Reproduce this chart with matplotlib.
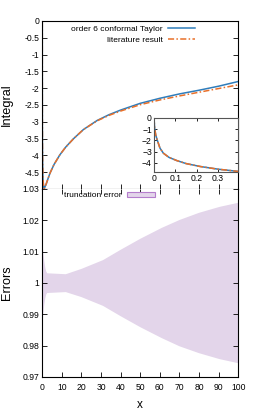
import numpy as np
import matplotlib
matplotlib.use('Agg')
import matplotlib.pyplot as plt
from matplotlib.patches import Patch

plt.rcParams['font.family'] = ['Liberation Sans', 'DejaVu Sans']

# integral curves
x_int = [0, 0.003, 0.008, 0.015, 0.028, 0.044, 0.07, 0.106, 0.15, 0.216, 0.3, 0.395,
         0.7, 1.0, 2, 3, 4, 6, 9, 12, 16, 21, 28, 34, 40, 50, 60, 70, 80, 90, 100]
taylor = [0, -0.9, -1.5, -1.95, -2.68, -3.13, -3.5, -3.78, -4.05, -4.31, -4.55, -4.75,
          -4.93, -4.99, -4.85, -4.68, -4.52, -4.27, -3.98, -3.75, -3.5, -3.23, -2.96,
          -2.79, -2.65, -2.45, -2.3, -2.17, -2.06, -1.94, -1.8]
literature = [0, -0.9, -1.5, -1.95, -2.68, -3.13, -3.5, -3.78, -4.05, -4.31, -4.55, -4.75,
              -4.93, -4.99, -4.85, -4.68, -4.52, -4.27, -3.98, -3.75, -3.5, -3.23, -2.97,
              -2.81, -2.68, -2.49, -2.35, -2.23, -2.12, -2.01, -1.9]

# truncation error band
x_err = [0, 0.5, 1, 1.5, 2, 2.5, 12, 20, 31, 40, 50, 61, 70, 80, 90.5, 100]
err_hi = [1.0135, 1.010, 1.007, 1.005, 1.0037, 1.0031, 1.0028, 1.0045, 1.0073, 1.0106,
          1.0141, 1.0176, 1.0201, 1.0224, 1.0243, 1.0256]
err_lo = [0.9863, 0.990, 0.993, 0.995, 0.9963, 0.9968, 0.9971, 0.9955, 0.9927, 0.9894,
          0.9859, 0.9824, 0.9798, 0.9776, 0.9757, 0.9744]

blue = '#2f7dbb'
orange = '#e8702a'
fill_c = '#e3d5ea'
edge_c = '#b47dcc'
fs = 6.2

fig = plt.figure(figsize=(2.8, 4.2), dpi=100)
ax1 = fig.add_axes([0.151, 0.55, 0.70, 0.40])
ax2 = fig.add_axes([0.151, 0.1024, 0.70, 0.4476])

# top panel
ax1.plot(x_int, taylor, color=blue, lw=1.1, label='order 6 conformal Taylor')
ax1.plot(x_int, literature, color=orange, lw=1.1, dashes=[4, 1.5, 1, 1.5], label='literature result')
ax1.set_xlim(0, 100)
ax1.set_ylim(-5, 0)
ax1.set_yticks(np.arange(-4.5, 0.01, 0.5))
ax1.set_yticklabels(['-4.5', '-4', '-3.5', '-3', '-2.5', '-2', '-1.5', '-1', '-0.5', '0'])
ax1.set_xticks(np.arange(0, 101, 10))
ax1.tick_params(axis='x', labelbottom=False, direction='in', length=3.5, width=0.6)
ax1.tick_params(axis='y', direction='in', right=True, length=3.5, width=0.6, labelsize=fs, pad=2)
ax1.set_ylabel('Integral', fontsize=9.2)
ax1.yaxis.set_label_coords(-0.15, 0.5)
leg1 = ax1.legend(loc='upper right', bbox_to_anchor=(0.78, 0.975), frameon=False, fontsize=6,
                  markerfirst=False, handlelength=3.3, borderpad=0, borderaxespad=0,
                  labelspacing=0.35, handletextpad=0.6)
for t in leg1.get_texts():
    t.set_ha('right')

# inset
axi = fig.add_axes([0.55, 0.5905, 0.301, 0.1286])
axi.plot(x_int, taylor, color=blue, lw=1.1)
axi.plot(x_int, literature, color=orange, lw=1.1, dashes=[4, 1.5, 1, 1.5])
axi.set_xlim(0, 0.395)
axi.set_ylim(-4.8, 0)
axi.set_xticks([0, 0.1, 0.2, 0.3])
axi.set_xticklabels(['0', '0.1', '0.2', '0.3'])
axi.set_yticks([-4, -3, -2, -1, 0])
axi.tick_params(direction='in', top=True, right=True, length=2.5, width=0.6, labelsize=fs, pad=1.5)
for s in axi.spines.values():
    s.set_linewidth(0.8)
    s.set_color('#555555')

# bottom panel
ax2.fill_between(x_err, err_lo, err_hi, facecolor=fill_c, edgecolor='none', lw=0)
ax2.set_xlim(0, 100)
ax2.set_ylim(0.97, 1.03)
ax2.set_xticks(np.arange(0, 101, 10))
ax2.set_yticks([0.97, 0.98, 0.99, 1.0, 1.01, 1.02, 1.03])
ax2.set_yticklabels(['0.97', '0.98', '0.99', '1', '1.01', '1.02', '1.03'])
ax2.tick_params(direction='in', top=True, right=True, length=3.5, width=0.6, labelsize=fs, pad=2)
ax2.tick_params(axis='x', pad=4)
ax2.spines['top'].set_visible(False)
ax2.set_ylabel('Errors', fontsize=9.2)
ax2.yaxis.set_label_coords(-0.15, 0.5)
ax2.set_xlabel('x', fontsize=8.5)
ax2.xaxis.set_label_coords(0.5, -0.115)
h = Patch(facecolor=fill_c, edgecolor=edge_c, lw=0.8)
leg2 = ax2.legend([h], ['truncation error'], loc='upper right', bbox_to_anchor=(0.575, 0.985),
                  frameon=False, fontsize=6, markerfirst=False, handlelength=3.4,
                  handleheight=0.55, borderpad=0, borderaxespad=0, handletextpad=0.6)

for ax in (ax1, ax2):
    for s in ax.spines.values():
        s.set_linewidth(0.8)

fig.savefig('out.png', dpi=100)
